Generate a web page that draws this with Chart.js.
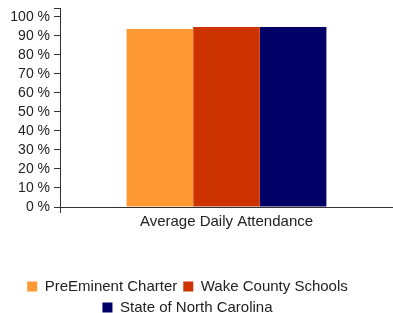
<!DOCTYPE html>
<html>
<head>
<meta charset="utf-8">
<script src="https://cdn.jsdelivr.net/npm/chart.js@4/dist/chart.umd.min.js"></script>
<style>
  html, body { margin: 0; padding: 0; background: #fff; }
  #wrap { width: 393px; height: 313px; position: relative; }
</style>
</head>
<body>
<div id="wrap"><canvas id="attendanceChart"></canvas></div>
<script>
// Données du graphique
const categories = ['Average Daily Attendance'];
const seriesNames = ['PreEminent Charter', 'Wake County Schools', 'State of North Carolina'];
const seriesColors = ['#FF9933', '#CC3300', '#000066'];
const preEminent = [93.7];
const wakeCounty = [94.7];
const northCarolina = [94.7];
const yTicks = [0, 10, 20, 30, 40, 50, 60, 70, 80, 90, 100];
const yMax = 104.7;

const seriesValues = [preEminent, wakeCounty, northCarolina];
const axisColor = '#333';
const textColor = '#222';
const fontFamily = '"Liberation Sans", Arial, sans-serif';

// Décaler un peu la légende vers la gauche
const legendShift = {
    id: 'legendShift',
    afterLayout(chart) {
        chart.legend.left -= 9;
        chart.legend.right -= 9;
    }
};

new Chart(document.getElementById('attendanceChart'), {
    type: 'bar',
    data: {
        labels: categories,
        datasets: seriesNames.map((name, i) => ({
            label: name,
            data: seriesValues[i],
            backgroundColor: seriesColors[i],
            borderWidth: 0
        }))
    },
    options: {
        responsive: true,
        maintainAspectRatio: false,
        animation: false,
        layout: { padding: { top: 8, right: 0, bottom: -12, left: 0 } },
        datasets: {
            bar: { barPercentage: 1, categoryPercentage: 0.6 }
        },
        scales: {
            x: {
                afterFit: scale => { scale.height = 66; },
                grid: { drawOnChartArea: false, color: axisColor, tickLength: 6 },
                border: { color: axisColor },
                ticks: { color: textColor, padding: 0, font: { family: fontFamily, size: 15 } }
            },
            y: {
                min: 0,
                max: yMax,
                afterBuildTicks: scale => {
                    scale.ticks = yTicks.map(v => ({ value: v })).concat([{ value: yMax }]);
                },
                afterFit: scale => {
                    scale.width = 60;
                    scale.paddingTop = 0;
                    scale.paddingBottom = 0;
                },
                grid: { drawOnChartArea: false, color: axisColor, tickLength: 6 },
                border: { color: axisColor },
                ticks: {
                    autoSkip: false,
                    color: textColor,
                    padding: 4,
                    font: { family: fontFamily, size: 14 },
                    callback: v => (v <= 100 ? v + ' %' : '')
                }
            }
        },
        plugins: {
            tooltip: { enabled: false },
            legend: {
                position: 'bottom',
                labels: {
                    boxWidth: 10,
                    boxHeight: 10,
                    padding: 6,
                    color: textColor,
                    font: { family: fontFamily, size: 15 }
                }
            }
        }
    },
    plugins: [legendShift]
});
</script>
</body>
</html>
